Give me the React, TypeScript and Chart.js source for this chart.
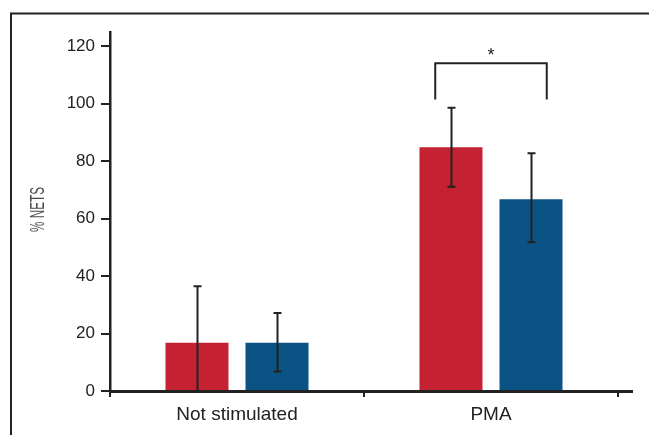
import React, { useEffect, useRef } from "react";
import { Chart, registerables } from "chart.js";

Chart.register(...registerables);

const categories = ["Not stimulated", "PMA"];
const redValues = [16.8, 84.9];
const blueValues = [16.8, 66.8];
const redErrLow = [0, 71.1];
const redErrHigh = [36.5, 98.6];
const blueErrLow = [6.8, 51.8];
const blueErrHigh = [27.2, 82.8];
const yTickValues = [0, 20, 40, 60, 80, 100, 120];
const yAxisMax = 125;
const yTitle = "% NETS";
const sigCategory = 1;
const sigLegBottom = 101.5;
const sigTop = 114.1;
const sigLabel = "*";

const RED = "#c42133";
const BLUE = "#0c5385";
const INK = "#222222";

const errLows = [redErrLow, blueErrLow];
const errHighs = [redErrHigh, blueErrHigh];

const decorPlugin = {
  id: "decor",
  beforeDraw(chart: any) {
    const { ctx } = chart;
    ctx.save();
    ctx.fillStyle = "#ffffff";
    ctx.fillRect(0, 0, chart.width, chart.height);
    ctx.restore();
  },
  afterDraw(chart: any) {
    const { ctx, chartArea, scales } = chart;
    const y = scales.y;
    ctx.save();
    // frame
    ctx.strokeStyle = INK;
    ctx.lineWidth = 2;
    ctx.beginPath();
    ctx.moveTo(11, chart.height);
    ctx.lineTo(11, 13.5);
    ctx.lineTo(chart.width, 13.5);
    ctx.stroke();
    // x axis line (extends past the last category boundary)
    const y0 = Math.round(y.getPixelForValue(0));
    ctx.fillStyle = INK;
    ctx.fillRect(chartArea.left - 1, y0 - 1, chartArea.right + 15 - chartArea.left + 1, 3);
    // error bars
    ctx.lineWidth = 2;
    ctx.strokeStyle = INK;
    for (let d = 0; d < 2; d++) {
      const meta = chart.getDatasetMeta(d);
      meta.data.forEach((bar: any, i: number) => {
        const x = Math.round(bar.x) + 0.5;
        const yl = y.getPixelForValue(errLows[d][i]);
        const yh = y.getPixelForValue(errHighs[d][i]);
        ctx.beginPath();
        ctx.moveTo(x, yl);
        ctx.lineTo(x, yh);
        ctx.moveTo(x - 4, yh);
        ctx.lineTo(x + 4, yh);
        if (errLows[d][i] > 0) {
          ctx.moveTo(x - 4, yl);
          ctx.lineTo(x + 4, yl);
        }
        ctx.stroke();
      });
    }
    // significance bracket
    const b0 = chart.getDatasetMeta(0).data[sigCategory];
    const b1 = chart.getDatasetMeta(1).data[sigCategory];
    const xl = b0.x - b0.width * 0.25;
    const xr = b1.x + b1.width * 0.25;
    const yb = y.getPixelForValue(sigLegBottom);
    const yt = y.getPixelForValue(sigTop);
    ctx.beginPath();
    ctx.moveTo(xl, yb);
    ctx.lineTo(xl, yt);
    ctx.lineTo(xr, yt);
    ctx.lineTo(xr, yb);
    ctx.stroke();
    ctx.fillStyle = INK;
    ctx.font = "18px 'Liberation Sans', Arial, sans-serif";
    ctx.textAlign = "center";
    ctx.textBaseline = "alphabetic";
    ctx.fillText(sigLabel, (xl + xr) / 2, yt - 2);
    // y title
    ctx.save();
    ctx.translate(38, (chartArea.top + chartArea.bottom) / 2 - 2);
    ctx.rotate(-Math.PI / 2);
    ctx.scale(0.56, 1);
    ctx.fillStyle = "#4a4a4a";
    ctx.font = "21px 'Liberation Sans', Arial, sans-serif";
    ctx.textAlign = "center";
    ctx.textBaseline = "middle";
    ctx.fillText(yTitle, 0, 0);
    ctx.restore();
    ctx.restore();
  },
};

export default function App() {
  const ref = useRef<HTMLCanvasElement | null>(null);
  useEffect(() => {
    document.body.style.margin = "0";
    const canvas = ref.current;
    if (!canvas) return;
    const chart = new Chart(canvas, {
      type: "bar",
      data: {
        labels: categories,
        datasets: [
          {
            data: redValues,
            backgroundColor: RED,
            borderWidth: 0,
            categoryPercentage: 0.63,
            barPercentage: 0.7875,
          },
          {
            data: blueValues,
            backgroundColor: BLUE,
            borderWidth: 0,
            categoryPercentage: 0.63,
            barPercentage: 0.7875,
          },
        ],
      },
      options: {
        animation: false,
        responsive: false,
        devicePixelRatio: 1,
        layout: { padding: { top: 32, right: 31, left: 0, bottom: 0 } },
        plugins: {
          legend: { display: false },
          tooltip: { enabled: false },
          title: { display: false },
        },
        scales: {
          x: {
            offset: true,
            grid: {
              offset: true,
              drawOnChartArea: false,
              drawTicks: true,
              tickLength: 6,
              color: INK,
              lineWidth: 2,
            },
            border: { display: false },
            ticks: {
              color: INK,
              padding: 6,
              font: { family: "'Liberation Sans', Arial, sans-serif", size: 19 },
            },
            afterFit: (scale: any) => {
              scale.height = 44;
            },
          },
          y: {
            min: 0,
            max: yAxisMax,
            afterBuildTicks: (scale: any) => {
              scale.ticks = yTickValues.map((v) => ({ value: v }));
            },
            grid: {
              drawOnChartArea: false,
              drawTicks: true,
              tickLength: 9,
              color: INK,
              lineWidth: 2,
            },
            border: { display: true, color: INK, width: 2.5 },
            ticks: {
              color: INK,
              padding: 6,
              font: { family: "'Liberation Sans', Arial, sans-serif", size: 17 },
            },
            afterFit: (scale: any) => {
              scale.width = 110;
            },
          },
        },
      },
      plugins: [decorPlugin],
    });
    return () => chart.destroy();
  }, []);
  return (
    <div style={{ width: 649, height: 435 }}>
      <canvas ref={ref} width={649} height={435} style={{ display: "block" }} />
    </div>
  );
}
